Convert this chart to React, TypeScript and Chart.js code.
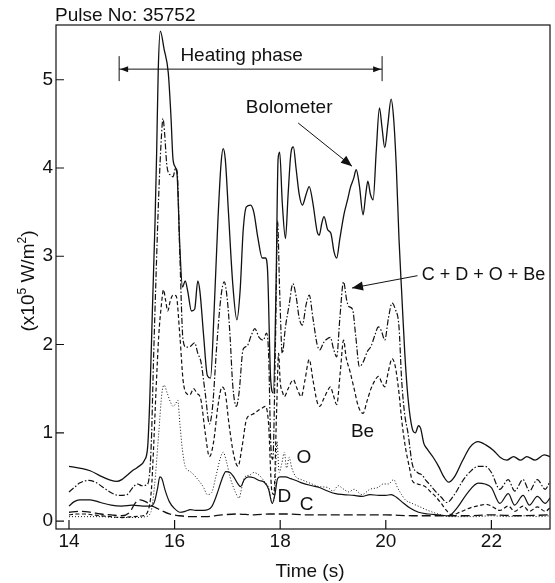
import React, { useEffect, useRef } from "react";
import { Chart, registerables } from "chart.js";
Chart.register(...registerables);

// ---- data ----
const bolT = [14.0,14.2,14.4,14.6,14.8,14.9,15.0,15.1,15.2,15.3,15.43,15.49,15.53,15.58,15.63,15.66,15.69,15.73,15.8,15.88,15.93,15.97,16.02,16.05,16.1,16.15,16.2,16.25,16.32,16.38,16.44,16.48,16.55,16.62,16.68,16.75,16.82,16.88,16.92,16.96,17.02,17.1,17.18,17.24,17.3,17.36,17.44,17.5,17.58,17.66,17.72,17.76,17.82,17.87,17.92,17.96,17.99,18.04,18.1,18.15,18.2,18.25,18.3,18.36,18.42,18.49,18.55,18.62,18.7,18.74,18.79,18.83,18.9,18.96,19.02,19.07,19.13,19.21,19.28,19.33,19.39,19.44,19.5,19.57,19.62,19.66,19.71,19.76,19.82,19.88,19.93,19.98,20.04,20.1,20.15,20.2,20.25,20.3,20.36,20.42,20.5,20.56,20.62,20.66,20.72,20.78,20.9,21.0,21.1,21.19,21.3,21.45,21.6,21.75,21.9,22.04,22.17,22.29,22.42,22.55,22.67,22.83,23.0,23.11];
const bolV = [0.62,0.6,0.57,0.51,0.46,0.45,0.47,0.52,0.57,0.61,0.69,0.84,1.37,2.4,3.4,4.17,5.1,5.55,5.35,5.08,4.6,4.1,4.0,3.9,3.1,2.65,2.72,2.6,2.38,2.4,2.72,2.6,2.1,1.65,1.62,2.4,3.4,4.05,4.22,4.1,3.5,2.7,2.28,2.6,3.3,3.56,3.58,3.5,3.2,2.98,2.98,2.85,1.6,1.45,2.6,4.1,4.18,3.6,3.2,3.7,4.15,4.24,4.0,3.7,3.58,3.7,3.79,3.6,3.28,3.24,3.38,3.45,3.3,3.26,3.05,2.98,3.2,3.48,3.65,3.78,3.88,3.98,3.8,3.47,3.7,3.85,3.7,3.64,4.2,4.68,4.45,4.23,4.5,4.78,4.55,4.0,3.2,2.6,1.9,1.4,1.05,1.0,1.08,1.05,0.88,0.82,0.72,0.62,0.5,0.44,0.5,0.68,0.84,0.9,0.86,0.8,0.72,0.69,0.73,0.69,0.73,0.69,0.75,0.73];

const sumT = [14.0,14.1,14.2,14.37,14.5,14.65,14.8,14.95,15.1,15.22,15.3,15.38,15.47,15.52,15.56,15.6,15.65,15.7,15.75,15.78,15.81,15.85,15.88,15.93,15.97,16.02,16.05,16.1,16.16,16.22,16.3,16.38,16.44,16.5,16.58,16.66,16.72,16.8,16.88,16.94,17.0,17.05,17.1,17.17,17.22,17.3,17.37,17.45,17.52,17.6,17.68,17.74,17.78,17.82,17.86,17.91,17.95,17.99,18.04,18.1,18.17,18.24,18.3,18.36,18.42,18.49,18.55,18.62,18.7,18.75,18.82,18.88,18.95,19.01,19.07,19.13,19.2,19.26,19.3,19.37,19.43,19.5,19.57,19.65,19.72,19.79,19.86,19.92,19.98,20.05,20.12,20.18,20.25,20.3,20.36,20.42,20.5,20.6,20.69,20.76,20.84,20.95,21.05,21.16,21.3,21.45,21.6,21.75,21.88,22.0,22.16,22.32,22.44,22.6,22.72,22.87,23.02,23.11];
const sumV = [0.33,0.38,0.43,0.46,0.44,0.38,0.32,0.29,0.3,0.39,0.42,0.4,0.41,0.5,0.9,1.8,2.8,3.7,4.35,4.56,4.4,4.05,3.95,3.92,3.9,4.0,3.95,3.0,2.05,1.97,1.98,2.02,1.9,1.8,1.45,1.1,1.3,2.0,2.55,2.71,2.5,2.1,1.55,1.3,1.45,1.95,1.98,2.1,2.18,2.08,2.05,2.13,1.9,0.9,0.7,2.0,3.4,2.6,1.9,2.2,2.45,2.69,2.55,2.3,2.22,2.45,2.56,2.3,2.0,1.94,2.02,2.06,2.08,1.95,1.86,2.3,2.71,2.5,2.43,2.4,2.1,1.75,1.8,1.92,1.98,2.1,2.2,2.15,2.05,2.3,2.47,2.4,2.2,1.6,1.2,1.0,0.65,0.55,0.52,0.46,0.41,0.33,0.27,0.21,0.3,0.45,0.56,0.62,0.62,0.55,0.36,0.47,0.34,0.47,0.34,0.47,0.36,0.45];

const beT = [14.0,14.15,14.3,14.45,14.6,14.8,15.0,15.2,15.4,15.5,15.56,15.6,15.65,15.7,15.75,15.79,15.83,15.87,15.92,15.97,16.03,16.1,16.16,16.22,16.29,16.36,16.42,16.5,16.58,16.66,16.74,16.82,16.9,16.96,17.03,17.12,17.2,17.28,17.36,17.44,17.51,17.6,17.66,17.72,17.78,17.84,17.88,17.93,17.97,18.0,18.05,18.08,18.15,18.25,18.32,18.4,18.47,18.55,18.62,18.7,18.75,18.82,18.9,18.95,19.01,19.07,19.14,19.2,19.25,19.32,19.4,19.48,19.57,19.64,19.72,19.8,19.86,19.93,19.98,20.05,20.12,20.18,20.25,20.3,20.37,20.45,20.5,20.6,20.75,20.85,20.94,21.05,21.15,21.25,21.4,21.6,21.8,21.9,22.0,22.16,22.32,22.44,22.6,22.72,22.87,23.02,23.11];
const beV = [0.07,0.08,0.08,0.07,0.06,0.05,0.04,0.05,0.06,0.12,0.35,0.8,1.5,2.1,2.45,2.62,2.5,2.38,2.5,2.56,2.55,2.1,1.6,1.45,1.43,1.5,1.45,1.37,1.0,0.73,0.9,1.3,1.52,1.45,1.1,0.75,0.62,0.85,1.15,1.2,1.22,1.26,1.28,1.3,1.1,0.35,0.3,1.2,1.9,1.58,1.45,1.41,1.5,1.6,1.5,1.41,1.6,1.83,1.6,1.35,1.3,1.38,1.48,1.52,1.42,1.32,1.7,2.05,1.85,1.7,1.5,1.3,1.22,1.35,1.5,1.6,1.64,1.56,1.52,1.7,1.84,1.75,1.45,1.15,0.84,0.6,0.46,0.42,0.39,0.33,0.28,0.2,0.12,0.07,0.1,0.15,0.18,0.19,0.17,0.12,0.17,0.11,0.17,0.11,0.16,0.11,0.15];

const oT = [14.0,14.3,14.6,14.9,15.1,15.3,15.45,15.55,15.62,15.7,15.76,15.8,15.86,15.92,15.97,16.02,16.06,16.1,16.15,16.2,16.3,16.4,16.47,16.55,16.62,16.7,16.78,16.86,16.92,16.98,17.05,17.15,17.22,17.28,17.33,17.42,17.5,17.6,17.7,17.78,17.85,17.9,17.94,17.98,18.03,18.08,18.12,18.17,18.22,18.3,18.4,18.48,18.6,18.74,18.9,19.0,19.1,19.18,19.3,19.4,19.55,19.7,19.85,19.95,20.05,20.15,20.22,20.3,20.37,20.5,20.65,20.8,20.94,21.1,21.19,21.4,21.7,22.0,22.3,22.6,22.9,23.11];
const oV = [0.05,0.05,0.05,0.04,0.04,0.04,0.05,0.1,0.4,1.0,1.45,1.54,1.45,1.35,1.3,1.33,1.37,1.1,0.8,0.62,0.56,0.5,0.45,0.38,0.3,0.32,0.5,0.7,0.78,0.68,0.5,0.33,0.26,0.4,0.5,0.52,0.55,0.52,0.45,0.38,0.2,0.35,0.9,0.55,0.65,0.78,0.6,0.72,0.6,0.5,0.47,0.45,0.42,0.39,0.38,0.34,0.4,0.37,0.33,0.36,0.3,0.36,0.38,0.42,0.42,0.47,0.38,0.3,0.24,0.2,0.16,0.12,0.09,0.06,0.05,0.05,0.05,0.06,0.05,0.06,0.05,0.06];

const dT = [14.0,14.1,14.2,14.4,14.6,14.8,15.0,15.2,15.4,15.55,15.62,15.68,15.72,15.76,15.82,15.9,16.0,16.1,16.2,16.3,16.4,16.55,16.7,16.8,16.9,16.97,17.05,17.12,17.2,17.25,17.32,17.4,17.5,17.6,17.7,17.78,17.85,17.9,17.95,18.0,18.1,18.2,18.3,18.42,18.6,18.74,18.9,19.05,19.2,19.4,19.55,19.7,19.87,20.0,20.1,20.2,20.3,20.45,20.62,20.8,21.0,21.19,21.35,21.55,21.75,21.88,22.0,22.16,22.32,22.44,22.6,22.72,22.87,23.02,23.11];
const dV = [0.17,0.22,0.24,0.24,0.21,0.18,0.17,0.18,0.17,0.17,0.22,0.38,0.5,0.48,0.35,0.22,0.14,0.1,0.11,0.13,0.12,0.12,0.16,0.3,0.48,0.56,0.55,0.5,0.42,0.39,0.47,0.5,0.49,0.46,0.44,0.36,0.2,0.3,0.48,0.5,0.5,0.48,0.46,0.43,0.4,0.38,0.34,0.31,0.3,0.29,0.28,0.3,0.29,0.29,0.3,0.27,0.22,0.15,0.1,0.08,0.07,0.06,0.15,0.32,0.43,0.42,0.38,0.2,0.31,0.18,0.29,0.18,0.28,0.2,0.26];

const cT = [14.0,14.2,14.4,14.6,14.8,15.0,15.15,15.25,15.35,15.45,15.55,15.65,15.75,15.9,16.1,16.3,16.6,16.9,17.2,17.5,17.8,18.1,18.5,19.0,19.5,20.0,20.5,21.0,21.5,22.0,22.5,23.11];
const cV = [0.1,0.11,0.1,0.08,0.07,0.06,0.1,0.2,0.24,0.22,0.18,0.15,0.12,0.08,0.06,0.05,0.05,0.07,0.08,0.07,0.08,0.08,0.07,0.07,0.07,0.07,0.06,0.06,0.06,0.07,0.06,0.07];

const xTicks = [14, 16, 18, 20, 22];
const yTicks = [0, 1, 2, 3, 4, 5];
const X_MIN = 13.754, X_MAX = 23.11, Y_MIN = -0.09, Y_MAX = 5.62;

const pts = (t: number[], v: number[]) => t.map((x, i) => ({ x, y: v[i] }));

export default function App() {
  const ref = useRef<HTMLCanvasElement>(null);
  useEffect(() => {
    const FONT = '"Liberation Sans", Arial, sans-serif';
    const INK = "#111";
    const arrowHead = (ctx: any, x0: number, y0: number, x1: number, y1: number, len = 9, hw = 3.5) => {
      const ang = Math.atan2(y1 - y0, x1 - x0);
      ctx.beginPath();
      ctx.moveTo(x1, y1);
      ctx.lineTo(x1 - len * Math.cos(ang) + hw * Math.sin(ang), y1 - len * Math.sin(ang) - hw * Math.cos(ang));
      ctx.lineTo(x1 - len * Math.cos(ang) - hw * Math.sin(ang), y1 - len * Math.sin(ang) + hw * Math.cos(ang));
      ctx.closePath();
      ctx.fill();
    };
    const deco = {
      id: "deco",
      afterDraw(chart: any) {
        const { ctx, chartArea: a } = chart;
        const X = (v: number) => chart.scales.x.getPixelForValue(v);
        const Y = (v: number) => chart.scales.y.getPixelForValue(v);
        ctx.save();
        ctx.strokeStyle = INK;
        ctx.fillStyle = INK;
        ctx.lineWidth = 1.2;
        ctx.setLineDash([]);
        ctx.strokeRect(a.left, a.top, a.right - a.left, a.bottom - a.top);
        // ticks (inward)
        ctx.beginPath();
        yTicks.forEach((t) => { ctx.moveTo(a.left, Y(t)); ctx.lineTo(a.left + 8, Y(t)); });
        xTicks.forEach((t) => { ctx.moveTo(X(t), a.bottom); ctx.lineTo(X(t), a.bottom - 9); });
        ctx.stroke();
        ctx.font = `19px ${FONT}`;
        ctx.textAlign = "right";
        ctx.textBaseline = "middle";
        yTicks.forEach((t) => ctx.fillText(String(t), a.left - 3, Y(t)));
        ctx.textAlign = "center";
        xTicks.forEach((t) => ctx.fillText(String(t), X(t), a.bottom + 13));
        ctx.fillText("Time (s)", (a.left + a.right) / 2 + 7, a.bottom + 43);
        // title
        ctx.textAlign = "left";
        ctx.textBaseline = "alphabetic";
        ctx.fillText("Pulse No: 35752", a.left - 1, 21);
        // y title with superscripts
        ctx.save();
        ctx.translate(27, 281);
        ctx.rotate(-Math.PI / 2);
        const parts: [string, boolean][] = [["(x10", false], ["5", true], [" W/m", false], ["2", true], [")", false]];
        let total = 0;
        parts.forEach(([s, sup]) => { ctx.font = sup ? `12px ${FONT}` : `19px ${FONT}`; total += ctx.measureText(s).width; });
        let cx = -total / 2;
        ctx.textBaseline = "alphabetic";
        ctx.textAlign = "left";
        parts.forEach(([s, sup]) => {
          ctx.font = sup ? `12px ${FONT}` : `19px ${FONT}`;
          ctx.fillText(s, cx, sup ? -1 : 7);
          cx += ctx.measureText(s).width;
        });
        ctx.restore();
        // heating phase arrow
        const hx0 = X(14.95), hx1 = X(19.93), hy = Y(5.12);
        ctx.lineWidth = 1;
        ctx.beginPath();
        ctx.moveTo(hx0, hy); ctx.lineTo(hx1, hy);
        ctx.moveTo(hx0, hy - 13); ctx.lineTo(hx0, hy + 12);
        ctx.moveTo(hx1, hy - 13); ctx.lineTo(hx1, hy + 12);
        ctx.stroke();
        arrowHead(ctx, hx0 + 20, hy, hx0 + 1, hy, 8, 3);
        arrowHead(ctx, hx1 - 20, hy, hx1 - 1, hy, 8, 3);
        ctx.font = `19px ${FONT}`;
        ctx.textAlign = "center";
        ctx.textBaseline = "middle";
        ctx.fillText("Heating phase", X(17.27), Y(5.27));
        ctx.fillText("Bolometer", X(18.17), Y(4.68));
        // bolometer arrow
        ctx.beginPath();
        ctx.moveTo(X(18.34), Y(4.51)); ctx.lineTo(X(19.36), Y(4.02));
        ctx.stroke();
        arrowHead(ctx, X(18.34), Y(4.51), X(19.36), Y(4.02), 11, 4.5);
        // sum label + arrow
        ctx.font = `18px ${FONT}`;
        ctx.textAlign = "left";
        ctx.fillText("C + D + O + Be", X(20.68), Y(2.79));
        ctx.beginPath();
        ctx.moveTo(X(20.6), Y(2.78)); ctx.lineTo(X(19.36), Y(2.64));
        ctx.stroke();
        arrowHead(ctx, X(20.6), Y(2.78), X(19.36), Y(2.64), 11, 4.5);
        ctx.font = `19px ${FONT}`;
        ctx.textAlign = "center";
        ctx.fillText("Be", X(19.56), Y(1.01));
        ctx.fillText("O", X(18.45), Y(0.72));
        ctx.fillText("D", X(18.08), Y(0.28));
        ctx.fillText("C", X(18.5), Y(0.18));
        ctx.restore();
      },
    };
    const base = { pointRadius: 0, borderColor: INK, fill: false, cubicInterpolationMode: "monotone" as const };
    const chart = new Chart(ref.current as HTMLCanvasElement, {
      type: "line",
      data: {
        datasets: [
          { ...base, label: "Bolometer", data: pts(bolT, bolV), borderWidth: 1.3 },
          { ...base, label: "C + D + O + Be", data: pts(sumT, sumV), borderWidth: 1.2, borderDash: [6, 2, 1.5, 2] },
          { ...base, label: "Be", data: pts(beT, beV), borderWidth: 1.2, borderDash: [4, 2.5] },
          { ...base, label: "O", data: pts(oT, oV), borderWidth: 1, borderDash: [1, 2] },
          { ...base, label: "D", data: pts(dT, dV), borderWidth: 1.2 },
          { ...base, label: "C", data: pts(cT, cV), borderWidth: 1.3, borderDash: [9, 4] },
        ],
      },
      options: {
        responsive: false,
        animation: false,
        parsing: false as any,
        layout: { padding: { left: 56, top: 25, right: 5, bottom: 54 } },
        scales: {
          x: { type: "linear", min: X_MIN, max: X_MAX, display: false },
          y: { type: "linear", min: Y_MIN, max: Y_MAX, display: false },
        },
        plugins: { legend: { display: false }, tooltip: { enabled: false } },
      },
      plugins: [deco],
    });
    return () => chart.destroy();
  }, []);
  return (
    <div style={{ position: "fixed", left: 0, top: 0, width: 555, height: 583, background: "#fff" }}>
      <canvas ref={ref} width={555} height={583} style={{ width: 555, height: 583, display: "block" }} />
    </div>
  );
}
